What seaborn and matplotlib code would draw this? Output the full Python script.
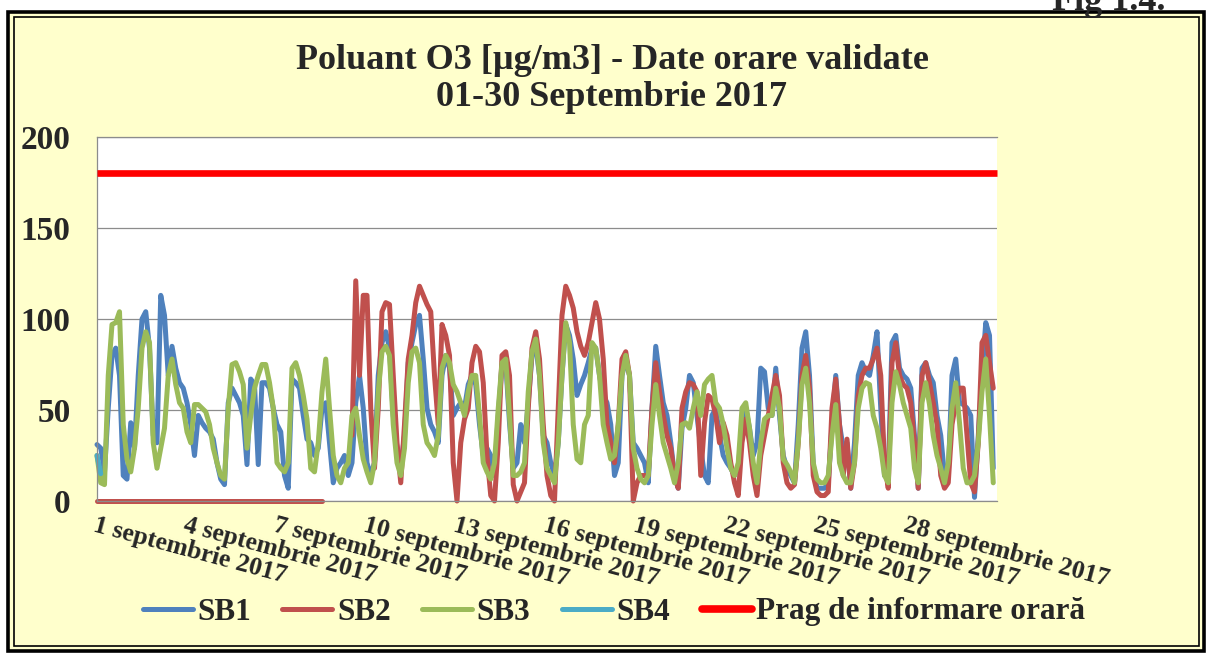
import numpy as np
import pandas as pd
import matplotlib
matplotlib.use("Agg")
import matplotlib.pyplot as plt
from matplotlib.lines import Line2D
from matplotlib.patches import Rectangle
import seaborn as sns

NAN = float("nan")

# Hourly O3 values read from the picture, sampled every 3 hours
# (8 readings per day: 00, 03, ..., 21 h), 1-30 September 2017
sb1 = [
    31, 29, 16, 51, 80, 84, 69, 14,
    12, 43, 29, 69, 100, 104, 84, 36,
    32, 113, 102, 69, 85, 73, 65, 62,
    54, 42, 25, 47, 43, 40, 38, 34,
    21, 12, 9, 54, 62, 58, 54, 47,
    20, 67, 64, 20, 65, 65, 62, 51,
    42, 38, 14, 7, 67, 65, 62, 47,
    34, 32, 25, 29, 51, 54, 32, 10,
    18, 21, 25, 14, 21, 54, 69, 51,
    21, 14, 21, 69, 87, 93, 84, 47,
    29, 18, 36, 76, 87, 97, 102, 78,
    51, 42, 38, 32, 69, 80, 73, 47,
    51, 54, 51, 64, 69, 64, 42, 25,
    29, 25, 14, 47, 75, 76, 43, 18,
    21, 42, 32, 54, 80, 85, 69, 36,
    32, 21, 14, 32, 69, 97, 91, 78,
    58, 64, 69, 76, 84, 84, 69, 58,
    54, 42, 14, 21, 69, 78, 69, 32,
    29, 25, 21, 10, 51, 85, 69, 54,
    47, 32, 14, 7, 40, 51, 69, 65,
    47, 29, 14, 10, 47, 51, 36, 25,
    21, 18, 14, 18, 42, 51, 40, 25,
    32, 73, 71, 51, 47, 73, 47, 25,
    18, 14, 10, 42, 84, 93, 69, 20,
    7, 7, 7, 10, 42, 69, 42, 29,
    32, 7, 32, 69, 76, 71, 69, 80,
    93, 51, 14, 14, 87, 91, 73, 69,
    67, 62, 36, 7, 73, 76, 69, 65,
    47, 36, 14, 14, 69, 78, 54, 53,
    51, 47, 2, 36, 69, 98, 91, 18,
]

sb2 = [
    0, 0, 0, 0, 0, 0, 0, 0,
    0, 0, 0, 0, 0, 0, 0, 0,
    0, 0, 0, 0, 0, 0, 0, 0,
    0, 0, 0, 0, 0, 0, 0, 0,
    0, 0, 0, 0, 0, 0, 0, 0,
    0, 0, 0, 0, 0, 0, 0, 0,
    0, 0, 0, 0, 0, 0, 0, 0,
    0, 0, 0, 0, 0, NAN, NAN, NAN,
    NAN, NAN, NAN, NAN, 36, 121, 69, 113,
    113, 51, 18, 51, 104, 109, 108, 69,
    32, 10, 42, 78, 91, 109, 118, 113,
    108, 104, 69, 42, 97, 91, 80, 21,
    0, 32, 45, 51, 76, 85, 82, 65,
    25, 3, 0, 32, 80, 82, 69, 9,
    0, 5, 10, 51, 84, 93, 78, 42,
    14, 3, 0, 51, 102, 118, 113, 106,
    93, 85, 80, 87, 98, 109, 100, 78,
    42, 32, 21, 42, 78, 82, 69, 0,
    10, 14, 14, 14, 51, 76, 60, 47,
    36, 29, 14, 7, 51, 60, 65, 64,
    60, 14, 43, 58, 56, 47, 32, 43,
    36, 21, 10, 3, 32, 45, 32, 14,
    3, 25, 36, 47, 58, 69, 58, 21,
    10, 7, 9, 32, 69, 80, 62, 14,
    5, 3, 3, 5, 51, 67, 42, 14,
    34, 7, 21, 58, 69, 73, 73, 78,
    84, 69, 21, 7, 76, 87, 69, 64,
    62, 54, 32, 7, 69, 76, 65, 54,
    42, 14, 7, 10, 42, 54, 62, 62,
    36, 10, 5, 32, 87, 91, 76, 62,
]

sb3 = [
    25, 10, 9, 69, 97, 98, 104, 42,
    23, 16, 29, 51, 84, 93, 87, 32,
    18, 29, 40, 69, 78, 64, 54, 51,
    38, 32, 53, 53, 51, 49, 42, 29,
    21, 14, 12, 51, 75, 76, 71, 64,
    29, 47, 62, 69, 75, 75, 65, 51,
    21, 18, 16, 21, 73, 76, 69, 58,
    45, 18, 16, 32, 60, 78, 51, 25,
    14, 10, 18, 21, 47, 51, 36, 23,
    16, 10, 21, 60, 82, 85, 80, 42,
    21, 14, 29, 65, 82, 84, 76, 42,
    32, 29, 25, 36, 73, 80, 76, 64,
    60, 54, 47, 60, 69, 69, 47, 21,
    16, 12, 21, 51, 76, 78, 47, 14,
    14, 16, 21, 60, 82, 89, 69, 32,
    18, 14, 10, 32, 69, 98, 87, 42,
    23, 21, 42, 47, 87, 84, 69, 42,
    32, 23, 25, 42, 69, 80, 69, 29,
    18, 12, 10, 14, 42, 64, 47, 32,
    25, 18, 10, 21, 42, 43, 40, 51,
    60, 47, 64, 67, 69, 54, 51, 42,
    29, 18, 14, 21, 51, 54, 40, 21,
    10, 32, 45, 47, 47, 62, 51, 23,
    20, 16, 10, 32, 64, 73, 54, 21,
    12, 10, 10, 14, 36, 53, 21, 14,
    10, 10, 21, 51, 62, 65, 64, 47,
    40, 29, 14, 10, 54, 71, 64, 54,
    47, 40, 18, 10, 54, 65, 53, 36,
    25, 18, 10, 21, 51, 65, 43, 18,
    10, 10, 14, 32, 60, 78, 47, 10,
]

sb4 = [25, 15]  # only the first readings are visible

prag = 180
prag_label = "Prag de informare orară"

series_names = ["SB1", "SB2", "SB3", "SB4"]
series_colors = ["#4F81BD", "#C0504D", "#9BBB59", "#4BACC6"]
prag_color = "#FF0000"

steps_per_day = 8
tick_days = [1, 4, 7, 10, 13, 16, 19, 22, 25, 28]
tick_labels = ["1 septembrie 2017", "4 septembrie 2017", "7 septembrie 2017",
               "10 septembrie 2017", "13 septembrie 2017", "16 septembrie 2017",
               "19 septembrie 2017", "22 septembrie 2017", "25 septembrie 2017",
               "28 septembrie 2017"]
y_ticks = [0, 50, 100, 150, 200]
title = "Poluant O3 [µg/m3] - Date orare validate\n01-30 Septembrie 2017"
n_days = 30

# ---- build long-format frame (gaps split into segments) ----
rows = []
for name, vals in zip(series_names, [sb1, sb2, sb3, sb4]):
    seg = 0
    gap = True
    for i, v in enumerate(vals):
        if v is None or np.isnan(v):
            gap = True
            continue
        if gap:
            seg += 1
            gap = False
        rows.append((i, float(v), name, f"{name}-{seg}"))
df = pd.DataFrame(rows, columns=["step", "value", "series", "segment"])

sns.set_style("white")
plt.rcParams["font.family"] = ["Liberation Serif", "DejaVu Serif"]
plt.rcParams["font.weight"] = "bold"

W, H = 1207, 654
fig = plt.figure(figsize=(W / 100, H / 100), dpi=100, facecolor="white")

def fx(px):
    return px / W

def fy(py):
    return 1 - py / H

# chart background and double frame (behind the axes)
bg = Rectangle((fx(8), fy(651)), fx(1204) - fx(8), fy(12) - fy(651),
               transform=fig.transFigure, facecolor="#FFFFCC",
               edgecolor="black", linewidth=2.6, zorder=-10)
fig.patches.append(bg)
inner = Rectangle((fx(14), fy(646)), fx(1199) - fx(14), fy(17) - fy(646),
                  transform=fig.transFigure, facecolor="none",
                  edgecolor="black", linewidth=1.2, zorder=-9)
fig.patches.append(inner)

fig.text(fx(1052), fy(10), "Fig 1.4.", fontsize=26, fontweight="bold",
         ha="left", va="baseline")

ax = fig.add_axes([fx(97), fy(501), fx(997) - fx(97), fy(137) - fy(501)])
ax.set_zorder(2)
ax.set_facecolor("white")

sns.lineplot(data=df, x="step", y="value", hue="series", units="segment",
             estimator=None, hue_order=series_names,
             palette=dict(zip(series_names, series_colors)),
             linewidth=3.6, legend=False, ax=ax)
ax.axhline(prag, color=prag_color, linewidth=4.8, zorder=5,
           solid_capstyle="butt")
for ln in ax.lines:
    ln.set_clip_on(False)

ax.set_xlim(0, n_days * steps_per_day)
ax.set_ylim(0, 200)
ax.set_yticks(y_ticks)
ax.set_yticklabels([str(v) for v in y_ticks], fontsize=24, fontweight="bold")
ax.set_xticks([(d - 1) * steps_per_day for d in tick_days])
ax.set_xticklabels(tick_labels, fontsize=18.5, fontweight="bold",
                   rotation=-15, ha="left", va="top", rotation_mode="anchor")
ax.tick_params(axis="y", length=0, pad=19)
ax.tick_params(axis="x", length=0, pad=9)
ax.set_xlabel("")
ax.set_ylabel("")
ax.yaxis.grid(True, color="#8C8C8C", linewidth=0.9)
ax.set_axisbelow(True)
for side in ["left", "bottom", "top"]:
    ax.spines[side].set_color("#8C8C8C")
    ax.spines[side].set_linewidth(0.9)
ax.spines["right"].set_visible(False)

fig.text(fx(612), fy(79), title, fontsize=26, fontweight="bold",
         ha="center", va="center", linespacing=1.15)

handles = [Line2D([], [], color=c, linewidth=3.6) for c in series_colors]
handles.append(Line2D([], [], color=prag_color, linewidth=5.5))
labels = series_names + [prag_label]
fig.legend(handles, labels, loc="center", bbox_to_anchor=(fx(614), fy(612)),
           ncol=5, frameon=False, handlelength=1.6, handletextpad=0.15,
           columnspacing=1.0, prop={"family": "Liberation Serif",
                                    "weight": "bold", "size": 22.5})

fig.savefig("out.png", dpi=100, facecolor="white")
